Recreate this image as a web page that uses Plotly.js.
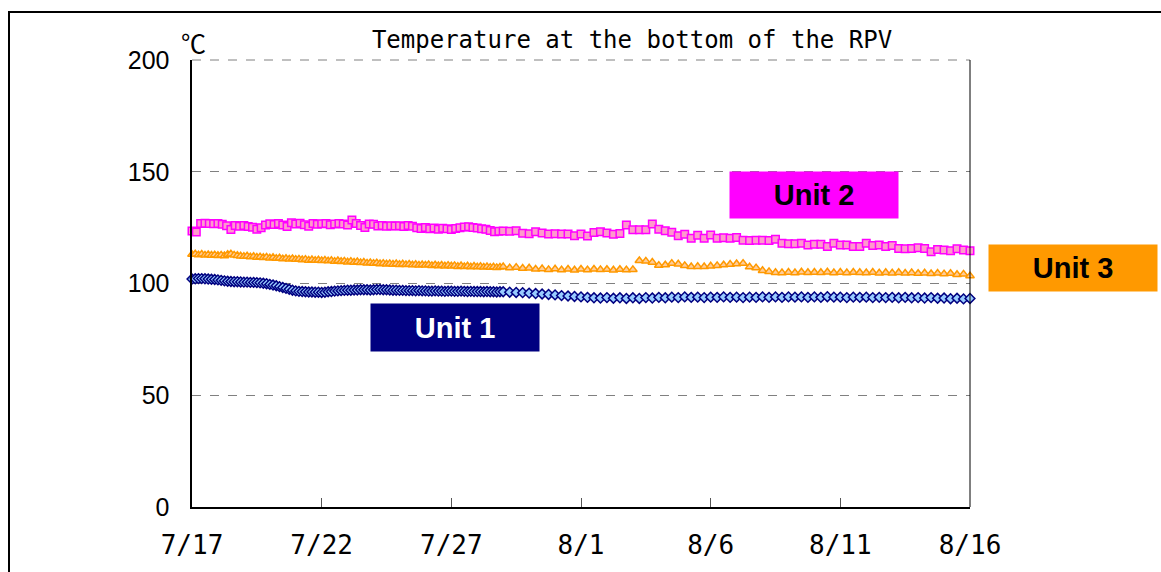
<!DOCTYPE html>
<html>
<head>
<meta charset="utf-8">
<script src="https://cdn.plot.ly/plotly-3.0.1.min.js"></script>
<style>html,body{margin:0;padding:0;background:#fff;}#chart{width:1161px;height:572px;}</style>
</head>
<body>
<div id="chart"></div>
<script>
// ---- data ----
const xTickVals = ['2011-07-17','2011-07-22','2011-07-27','2011-08-01','2011-08-06','2011-08-11','2011-08-16'];
const xTickText = ['7/17','7/22','7/27','8/1','8/6','8/11','8/16'];
const yTickVals = [0, 50, 100, 150, 200];

// Unit 1: every 3 h from 7/17 00:00 to 7/28 21:00, then every 6 h from 7/29 00:00 to 8/16 00:00
const unit1Dense = [
  102.0,102.1,102.2,102.2,102.1,102.0,101.9,101.8,
  101.6,101.4,101.2,101.0,100.9,100.8,100.8,100.7,
  100.6,100.6,100.5,100.5,100.4,100.3,100.1,99.9,
  99.6,99.3,99.0,98.6,98.2,97.8,97.4,97.0,
  96.7,96.5,96.4,96.3,96.2,96.2,96.1,96.1,
  96.0,96.1,96.3,96.4,96.6,96.7,96.8,96.9,
  97.0,97.0,97.1,97.1,97.2,97.2,97.2,97.1,
  97.2,97.3,97.3,97.2,97.2,97.1,97.0,97.0,
  96.9,96.9,96.8,96.8,96.8,96.7,96.8,96.7,
  96.7,96.6,96.6,96.7,96.6,96.6,96.5,96.6,
  96.6,96.5,96.5,96.6,96.5,96.4,96.5,96.4,
  96.4,96.4,96.3,96.4,96.3,96.3,96.2,96.3
];
const unit1Sparse = [
  96.3,96.1,96.0,95.9, 95.7,95.5,95.3,95.1, 94.9,94.6,94.4,94.2,
  94.0,93.8,93.6,93.5, 93.7,93.4,93.6,93.3, 93.6,93.3,93.7,93.5,
  93.8,93.6,93.9,93.7, 94.0,93.8,93.9,93.7, 93.9,93.8,94.0,93.8,
  93.9,93.7,93.9,93.8, 94.0,93.8,94.0,93.8, 94.0,93.9,94.0,93.8,
  94.0,93.8,94.1,93.9, 93.9,93.7,93.9,93.8, 93.9,93.7,93.8,93.7,
  93.8,93.6,93.8,93.6, 93.7,93.5,93.7,93.4, 93.5,93.2,93.4,93.1,
  93.3
];

// Unit 2: every 4 h from 7/17 00:00 to 7/28 20:00, then every 6 h from 7/29 00:00 to 8/16 00:00
const unit2Dense = [
  123.5,123.0,126.8,127.0,126.9,126.7,
  126.8,126.5,125.8,124.2,125.9,125.6,
  125.9,125.5,125.2,124.3,125.0,126.2,
  126.7,126.4,126.9,126.2,125.5,127.2,
  126.6,127.0,126.3,125.6,126.8,126.5,
  126.7,126.9,126.3,126.6,126.8,126.6,
  126.2,128.4,126.9,126.0,125.1,126.6,
  126.5,125.7,125.9,125.6,125.8,125.7,
  125.8,125.5,125.9,125.6,124.9,124.6,
  125.1,124.5,124.8,124.3,124.7,124.5,
  124.2,124.6,124.9,125.3,125.4,125.1,
  124.8,124.5,124.3,123.7,123.2,123.4
];
const unit2Sparse = [
  123.5,123.4,123.6,122.5, 122.3,123.2,122.6,122.2, 122.3,122.2,122.1,121.4,
  122.1,121.3,122.8,123.2, 122.6,122.0,122.4,126.2, 124.0,124.0,124.0,126.6,
  124.3,123.6,122.9,121.4, 122.0,120.2,121.6,120.2, 121.7,120.2,120.5,120.2,
  120.6,119.4,119.2,119.4, 119.4,119.2,119.8,118.0, 117.8,117.8,118.0,117.2,
  117.6,117.6,116.5,118.0, 117.2,117.2,116.5,116.5, 118.0,117.0,117.2,116.5,
  117.0,115.7,115.5,115.7, 116.0,115.7,114.2,115.2, 115.0,114.7,115.6,115.0,
  114.7
];

// Unit 3: every 3 h from 7/17 00:00 to 7/28 21:00, then every 6 h from 7/29 00:00 to 8/16 00:00
const unit3Dense = [
  113.0,113.2,112.8,113.1,112.7,112.9,112.6,112.8,
  112.5,112.7,112.4,113.0,113.2,112.7,112.5,112.3,
  112.1,112.3,111.9,112.1,111.7,111.9,111.6,111.8,
  111.4,111.6,111.2,111.4,111.0,111.2,110.9,111.1,
  110.8,110.9,110.6,110.8,110.4,110.6,110.3,110.5,
  110.2,110.4,110.1,110.3,109.9,110.2,109.8,110.0,
  109.6,109.9,109.5,109.7,109.3,109.5,109.1,109.3,
  109.0,109.2,108.8,109.0,108.7,108.9,108.6,108.8,
  108.5,108.7,108.4,108.6,108.3,108.5,108.2,108.4,
  108.2,108.4,108.0,108.3,107.9,108.2,107.8,108.1,
  107.8,108.0,107.6,107.9,107.5,107.8,107.4,107.7,
  107.4,107.6,107.3,107.5,107.2,107.4,107.1,107.3
];
const unit3Sparse = [
  107.5,107.0,107.2,106.8, 106.9,106.4,106.6,106.2, 106.5,106.1,106.4,106.0,
  106.4,106.1,106.4,106.2, 106.3,106.0,106.3,106.1, 106.2,110.2,110.0,109.5,
  108.1,108.3,109.0,108.7, 108.0,107.5,107.6,107.5, 107.8,108.0,108.3,108.6,
  108.8,109.0,107.4,107.0, 105.8,105.3,104.9,104.8, 105.0,104.8,105.1,104.9,
  105.0,104.9,105.1,104.8, 105.0,104.8,105.0,104.9, 104.8,105.0,104.7,104.9,
  104.7,104.9,104.6,104.8, 104.5,104.7,104.4,104.6, 104.3,104.5,104.0,104.2,
  103.4
];

// ---- helpers: regular sampling times ----
function pad(n){return (n<10?'0':'')+n;}
function times(startISO, stepHours, count){
  const t0 = Date.parse(startISO + 'Z');
  const out = [];
  for (let i=0;i<count;i++){
    const d = new Date(t0 + i*stepHours*3600000);
    out.push(d.getUTCFullYear()+'-'+pad(d.getUTCMonth()+1)+'-'+pad(d.getUTCDate())+' '+pad(d.getUTCHours())+':00');
  }
  return out;
}
function series(dense, denseStep, sparse){
  return {
    x: times('2011-07-17T00:00:00', denseStep, dense.length).concat(times('2011-07-29T00:00:00', 6, sparse.length)),
    y: dense.concat(sparse)
  };
}
const s1 = series(unit1Dense, 3, unit1Sparse);
const s2 = series(unit2Dense, 4, unit2Sparse);
const s3 = series(unit3Dense, 3, unit3Sparse);

const traces = [
  {x:s1.x, y:s1.y, type:'scatter', mode:'markers', name:'Unit 1', cliponaxis:false,
   marker:{symbol:'diamond', size:7.5, color:'#99CCFF', line:{color:'#000080', width:1.5}}},
  {x:s3.x, y:s3.y, type:'scatter', mode:'markers', name:'Unit 3', cliponaxis:false,
   marker:{symbol:'triangle-up', size:7.5, color:'#FFCC99', line:{color:'#FF9900', width:1.5}}},
  {x:s2.x, y:s2.y, type:'scatter', mode:'markers', name:'Unit 2', cliponaxis:false,
   marker:{symbol:'square', size:7.5, color:'#FF99CC', line:{color:'#FF00FF', width:1.5}}}
];

const L = 192, R = 970, T = 60, B = 507;
function px(x){return (x-L)/(R-L);}
function py(y){return (B-y)/(B-T);}

const monoFont = 'DejaVu Sans Mono, monospace';
const labelFont = {family:'Liberation Sans, Arial, sans-serif', size:29, color:'#000'};

const layout = {
  width:1161, height:572,
  margin:{l:L, r:1161-R, t:T, b:572-B, pad:0},
  paper_bgcolor:'#fff', plot_bgcolor:'#fff',
  showlegend:false,
  title:{text:'Temperature at the bottom of the RPV', font:{family:monoFont, size:24, color:'#000'},
         x:632/1161, xanchor:'center', y:1-40/572, yanchor:'middle'},
  xaxis:{type:'date', range:['2011-07-17','2011-08-16'], tickvals:xTickVals, ticktext:xTickText,
         showgrid:false, zeroline:false, showline:true, linecolor:'#000', linewidth:2,
         ticks:'inside', ticklen:9, tickcolor:'#555', tickwidth:1, ticklabelstandoff:14,
         tickfont:{family:monoFont, size:26, color:'#000'}},
  yaxis:{range:[0,200], tickvals:yTickVals, showgrid:true, gridcolor:'#808080', griddash:'dash', gridwidth:1,
         zeroline:false, showline:true, linecolor:'#000', linewidth:2.5, ticks:'', ticklabelstandoff:15,
         tickfont:{family:'Liberation Sans, Arial, sans-serif', size:25, color:'#000'}},
  shapes:[
    {type:'line', xref:'paper', yref:'paper', x0:0, x1:1, y0:1, y1:1, line:{color:'#808080', width:1, dash:'dash'}},
    {type:'line', xref:'paper', yref:'paper', x0:1, x1:1, y0:0, y1:1, line:{color:'#000', width:1}},
    {type:'rect', xref:'paper', yref:'paper', x0:px(9), x1:px(1163), y0:py(12), y1:py(600), line:{color:'#000', width:2}, fillcolor:'rgba(0,0,0,0)', layer:'below'}
  ],
  annotations:[
    {xref:'paper', yref:'paper', x:px(193), y:py(42), xanchor:'center', yanchor:'middle', text:'℃', showarrow:false,
     font:{family:'Noto Sans CJK JP, sans-serif', size:25, color:'#000'}},
    {xref:'paper', yref:'paper', x:px(813.5), y:py(194.5), xanchor:'center', yanchor:'middle', text:'<b>Unit 2</b>', showarrow:false,
     bgcolor:'#FF00FF', width:168, height:46, borderpad:0, font:labelFont},
    {xref:'paper', yref:'paper', x:px(1073), y:py(267.5), xanchor:'center', yanchor:'middle', text:'<b>Unit 3</b>', showarrow:false,
     bgcolor:'#FF9900', width:168, height:46, borderpad:0, font:labelFont},
    {xref:'paper', yref:'paper', x:px(454.5), y:py(327.5), xanchor:'center', yanchor:'middle', text:'<b>Unit 1</b>', showarrow:false,
     bgcolor:'#000080', width:168, height:47, borderpad:0, font:Object.assign({}, labelFont, {color:'#fff'})}
  ]
};

Plotly.newPlot('chart', traces, layout, {displayModeBar:false, staticPlot:true});
</script>
</body>
</html>
